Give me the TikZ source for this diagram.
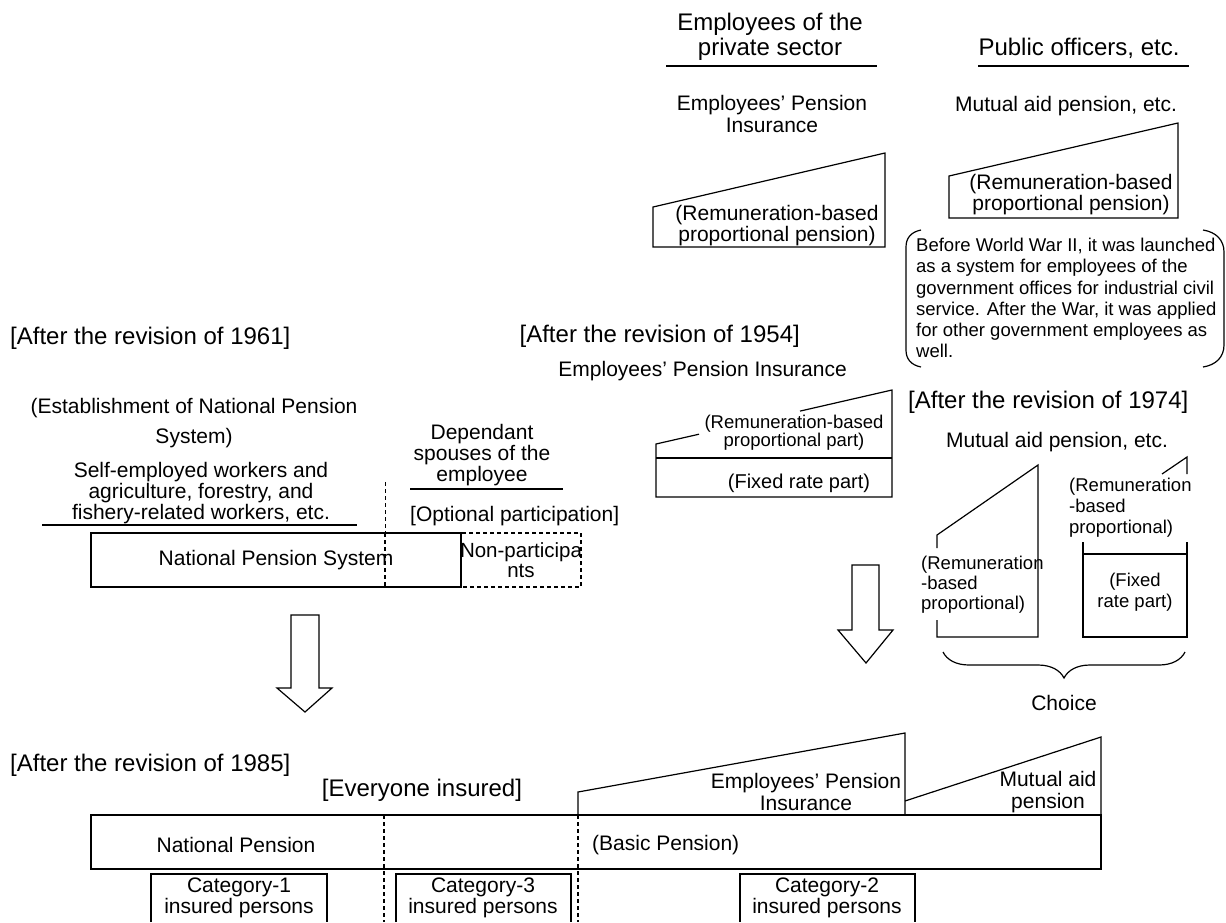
\documentclass[tikz,border=0pt]{standalone}
\usepackage{fontspec}
\setmainfont{Liberation Sans}
\usetikzlibrary{decorations.pathreplacing}
\begin{document}
\begin{tikzpicture}[x=1pt,y=-1pt,
  ln/.style={line width=1.2pt, line join=miter},
  thickdash/.style={line width=1.8pt, dash pattern=on 4pt off 3pt},
  thindash/.style={line width=0.8pt, dash pattern=on 4pt off 3pt},
  big/.style={font=\fontsize{24}{25}\selectfont, inner sep=0pt, align=center},
  mid/.style={font=\fontsize{21}{22}\selectfont, inner sep=0pt, align=center},
  small/.style={font=\fontsize{18.5}{20}\selectfont, inner sep=0pt, align=center},
]
\useasboundingbox (0,0) rectangle (1226,922);

% ---------- top: private sector and public officers ----------
\node[big] (hpriv) at (770,37) {Employees of the\\private sector};
\draw[ln] (666,66) -- (877,66);
\node[big] (hpub) at (1079,48) {Public officers, etc.};
\draw[ln] (978,66) -- (1189,66);

\node[mid] (epitop) at (772,114) {Employees’ Pension\\Insurance};
\node[mid] (mutop) at (1066,106) {Mutual aid pension, etc.};

\draw[ln] (653,247) -- (653,207) -- (885,153) -- (885,247) -- cycle;
\node[mid, font=\fontsize{21}{21}\selectfont] (remtop1) at (777,226) {(Remuneration-based\\proportional pension)};

\draw[ln] (949,218) -- (949,176) -- (1178,123) -- (1178,218) -- cycle;
\node[mid, font=\fontsize{21}{21}\selectfont] (remtop2) at (1071,195) {(Remuneration-based\\proportional pension)};

% note in a bracket pair
\draw[ln] (921,230) .. controls (911,232) and (906,238) .. (906,247) -- (906,350)
          .. controls (906,359) and (911,365) .. (921,367);
\draw[ln] (1203,230) .. controls (1216,232) and (1224,240) .. (1224,252) -- (1224,345)
          .. controls (1224,357) and (1216,365) .. (1203,367);
\node[small, align=left, anchor=west, font=\fontsize{18.5}{21.2}\selectfont] (note) at (916,298)
  {Before World War II, it was launched\\as a system for employees of the\\government offices for industrial civil\\service. After the War, it was applied\\for other government employees as\\well.};

% ---------- revision of 1961 ----------
\node[big, anchor=west] (r1961) at (10,338) {[After the revision of 1961]};
\node[mid, font=\fontsize{21}{30}\selectfont] (estab) at (194,423) {(Establishment of National Pension\\System)};
\node[mid, font=\fontsize{21}{21}\selectfont] (self) at (201,493) {Self-employed workers and\\agriculture, forestry, and\\fishery-related workers, etc.};
\draw[ln] (42,525) -- (357,525);
\node[mid, font=\fontsize{21}{21}\selectfont] (spouse) at (482,455) {Dependant\\spouses of the\\employee};
\draw[ln] (410,489) -- (563,489);
\node[mid, anchor=west] (optional) at (410,516) {[Optional participation]};

\draw[ln] (91,533) rectangle (461,587);
\draw[thickdash] (461,533) rectangle (581,587);
\draw[thindash] (385,482) -- (385,533);
\draw[thickdash] (385,533) -- (385,587);
\node[mid] (nps) at (276,560) {National Pension System};
\node[mid, font=\fontsize{20.5}{20}\selectfont] (nonpart) at (521,560) {Non-participa\\nts};

% arrow from 1961 down to 1985
\draw[ln] (291,615) -- (319,615) -- (319,688) -- (332,688) -- (305,712) -- (277,688) -- (291,688) -- cycle;

% ---------- revision of 1954 ----------
\node[big, anchor=east] (r1954) at (800,336) {[After the revision of 1954]};
\node[mid, anchor=east] (epi54) at (847,371) {Employees’ Pension Insurance};
\draw[ln] (699,434.2) -- (656,444) -- (656,497) -- (892,497) -- (892,390) -- (800,411.1);
\draw[ln] (656,458) -- (892,458);
\node[small, font=\fontsize{18.5}{18}\selectfont] (rem54) at (794,433) {(Remuneration-based\\proportional part)};
\node[mid, font=\fontsize{20}{20}\selectfont] (fixed54) at (799,483) {(Fixed rate part)};

% arrow from 1954 down to 1985
\draw[ln] (852,565) -- (879,565) -- (879,630) -- (893,630) -- (866,663) -- (838,630) -- (852,630) -- cycle;

% ---------- revision of 1974 ----------
\node[big, anchor=west] (r1974) at (908,402) {[After the revision of 1974]};
\node[mid] (mut74) at (1057,442) {Mutual aid pension, etc.};

\draw[ln] (937,548) -- (937,535) -- (1038,465) -- (1038,637) -- (937,637) -- (937,620);
\node[small, align=left, anchor=west] (rem74a) at (921,585) {(Remuneration\\-based\\proportional)};

\draw[ln] (1162,474) -- (1187,457) -- (1187,474);
\node[small, align=left, anchor=west, font=\fontsize{18.5}{21}\selectfont] (rem74b) at (1069,508) {(Remuneration\\-based\\proportional)};
\draw[ln] (1083,542) -- (1083,637) -- (1187,637) -- (1187,542);
\draw[ln] (1083,554) -- (1187,554);
\node[small, font=\fontsize{18.5}{21}\selectfont] (fixed74) at (1135,592) {(Fixed\\rate part)};

\draw[ln, decorate, decoration={brace, amplitude=26pt, mirror}] (943,652) -- (1185,652);
\node[mid] (choice) at (1064,703) {Choice};

% ---------- revision of 1985 ----------
\node[big, anchor=west] (r1985) at (10,765) {[After the revision of 1985]};
\node[big] (everyone) at (422,790) {[Everyone insured]};

\draw[ln] (91,815) rectangle (1101,869);
\draw[ln] (578,815) -- (578,792) -- (905,733) -- (905,815);
\draw[ln] (905,801) -- (1101,737) -- (1101,815);
\draw[thickdash] (384,815) -- (384,922);
\draw[thickdash] (578,815) -- (578,922);

\node[mid] (np85) at (236,845) {National Pension};
\node[mid, anchor=west] (basic) at (592,845) {(Basic Pension)};
\node[mid, font=\fontsize{21}{22}\selectfont] (epi85) at (806,792) {Employees’ Pension\\Insurance};
\node[mid, font=\fontsize{21}{22}\selectfont] (mut85) at (1048,792) {Mutual aid\\pension};

\draw[ln] (151,922) -- (151,874) -- (327,874) -- (327,922);
\draw[ln] (396,922) -- (396,874) -- (571,874) -- (571,922);
\draw[ln] (740,922) -- (740,874) -- (915,874) -- (915,922);
\node[mid, font=\fontsize{21}{19}\selectfont] (cat1) at (239,898) {Category-1\\insured persons};
\node[mid, font=\fontsize{21}{19}\selectfont] (cat3) at (483,898) {Category-3\\insured persons};
\node[mid, font=\fontsize{21}{19}\selectfont] (cat2) at (827,898) {Category-2\\insured persons};
\end{tikzpicture}
\end{document}
